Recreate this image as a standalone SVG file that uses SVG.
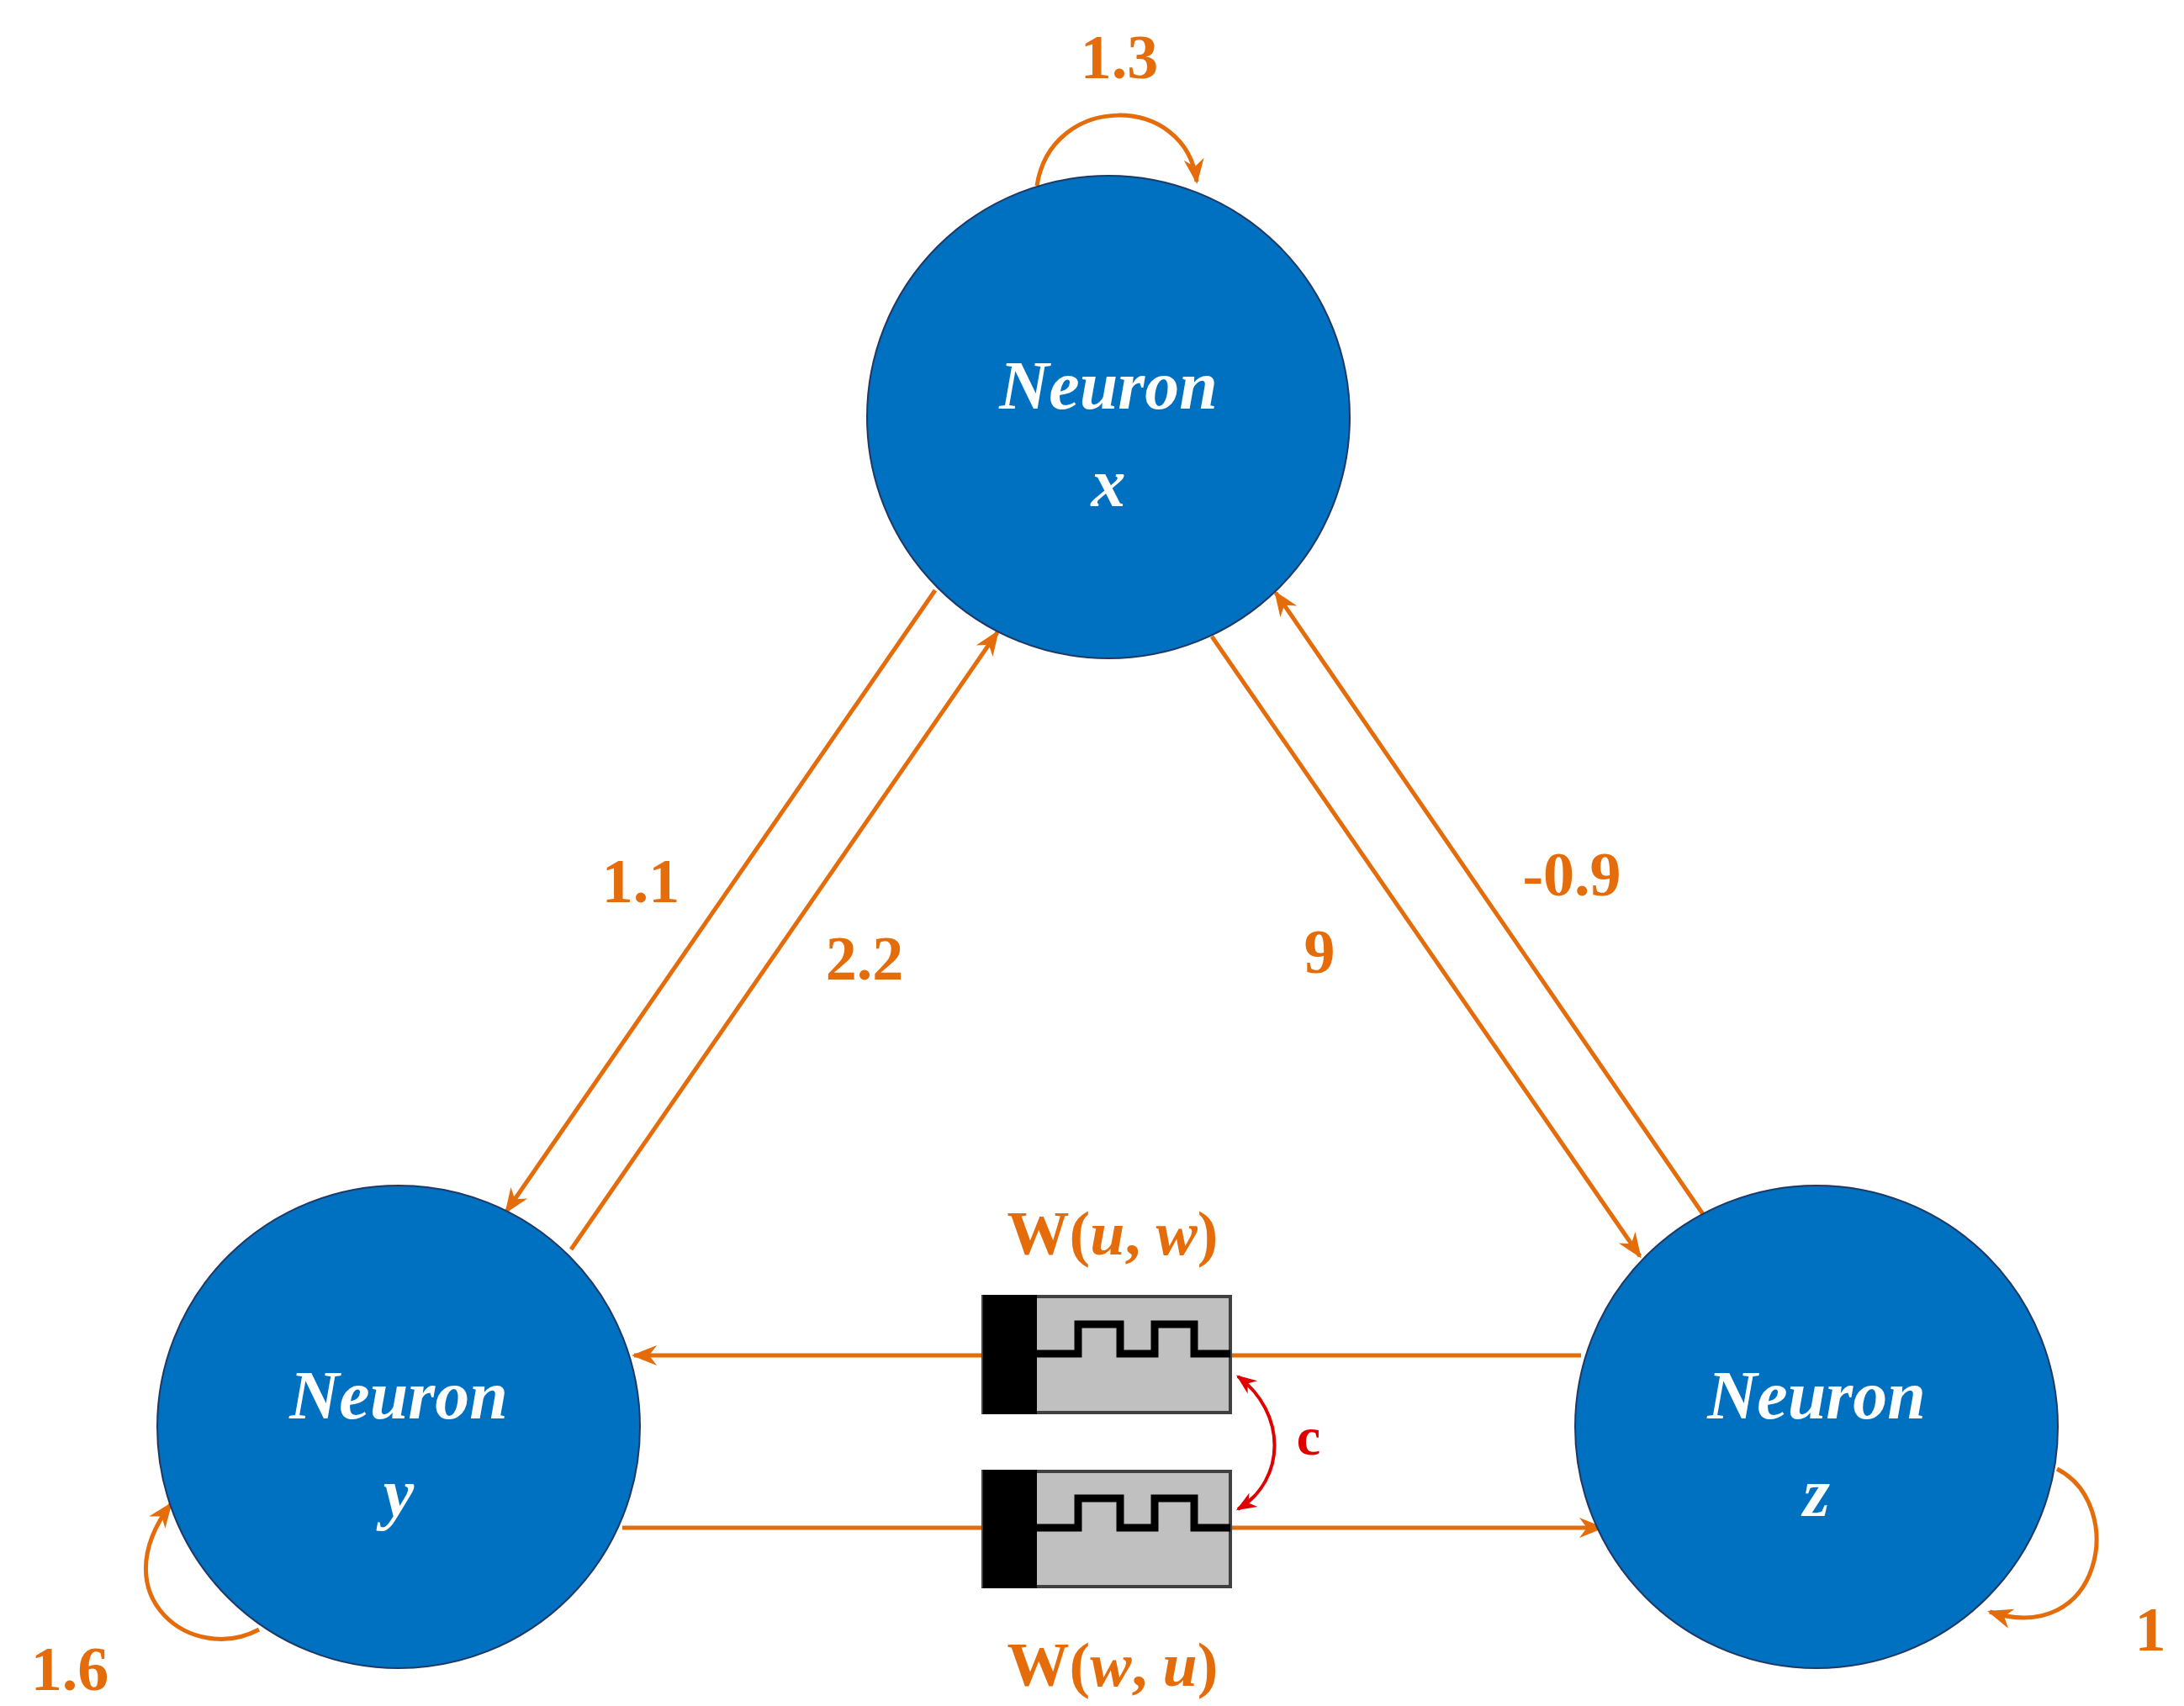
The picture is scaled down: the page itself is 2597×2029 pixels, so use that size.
<svg xmlns="http://www.w3.org/2000/svg" width="2597" height="2029" viewBox="0 0 2597 2029">
<defs>
<marker id="a" viewBox="0 0 10 10" refX="9" refY="5" markerWidth="6" markerHeight="6" markerUnits="strokeWidth" orient="auto"><path d="M0,1 L10,5 L0,9 L3,5 Z" fill="#E46C0A"/></marker>
<marker id="r" viewBox="0 0 10 10" refX="9" refY="5" markerWidth="6" markerHeight="6" markerUnits="strokeWidth" orient="auto-start-reverse"><path d="M0,1 L10,5 L0,9 L3,5 Z" fill="#E00000"/></marker>
<style>
.n{fill:#0070C0;stroke:#1F3864;stroke-width:2}
.t{font-family:"Liberation Serif",serif;font-weight:bold;font-style:italic;font-size:82px;fill:#fff;text-anchor:middle}
.c{stroke:#E46C0A;stroke-width:5;fill:none;marker-end:url(#a)}
.l{font-family:"Liberation Serif",serif;font-weight:bold;font-size:74px;fill:#E46C0A;text-anchor:middle}
.box{fill:#C0C0C0;stroke:#404040;stroke-width:4}
.w{fill:none;stroke:#000;stroke-width:9}
</style>
</defs>
<g id="connectors">
<path class="c" d="M1112,702 L602,1441"/>
<path class="c" d="M679,1486 L1186,752"/>
<path class="c" d="M1441,757 L1950,1494"/>
<path class="c" d="M2025,1444 L1517,705"/>
<path class="c" d="M1880,1612 L754,1612"/>
<path class="c" d="M740,1817 L1905,1817"/>
<path class="c" d="M1233,221 C1250,110 1410,110 1423,216"/>
<path class="c" d="M308,1938 C230,1980 120,1900 203,1789"/>
<path class="c" d="M2446,1747 C2530,1790 2500,1960 2366,1917"/>
<path d="M1472,1637 C1530,1680 1530,1760 1472,1795" fill="none" stroke="#E00000" stroke-width="4" marker-start="url(#r)" marker-end="url(#r)"/>
</g>
<g id="nx"><circle class="n" cx="1318" cy="496" r="287"/><text class="t" x="1318" y="486">Neuron</text><text class="t" x="1318" y="602">x</text></g>
<g id="ny"><circle class="n" cx="474" cy="1697" r="287"/><text class="t" x="474" y="1687">Neuron</text><text class="t" x="474" y="1803">y</text></g>
<g id="nz"><circle class="n" cx="2160" cy="1697" r="287"/><text class="t" x="2160" y="1687">Neuron</text><text class="t" x="2160" y="1803">z</text></g>
<g id="m1">
<rect class="box" x="1169" y="1542" width="294" height="138"/>
<rect x="1169" y="1540" width="64" height="142" fill="#000"/>
<path class="w" d="M1233,1610 H1282 V1575 H1332 V1610 H1373 V1575 H1420 V1610 H1463"/>
</g>
<g id="m2">
<rect class="box" x="1169" y="1750" width="294" height="137"/>
<rect x="1169" y="1748" width="64" height="141" fill="#000"/>
<path class="w" d="M1233,1817 H1282 V1782 H1332 V1817 H1373 V1782 H1420 V1817 H1463"/>
</g>
<g id="labels">
<text class="l" x="1331" y="93">1.3</text>
<text class="l" x="762" y="1073">1.1</text>
<text class="l" x="1028" y="1165">2.2</text>
<text class="l" x="1569" y="1157">9</text>
<text class="l" x="1869" y="1065">-0.9</text>
<text class="l" x="83" y="2010">1.6</text>
<text class="l" x="2557" y="1963">1</text>
<text class="l" x="1323" y="1492">W(<tspan font-style="italic">u</tspan>, <tspan font-style="italic">w</tspan>)</text>
<text class="l" x="1323" y="2005">W(<tspan font-style="italic">w</tspan>, <tspan font-style="italic">u</tspan>)</text>
<text class="l" x="1556" y="1730" style="fill:#E00000;font-size:64px">c</text>
</g>
</svg>
